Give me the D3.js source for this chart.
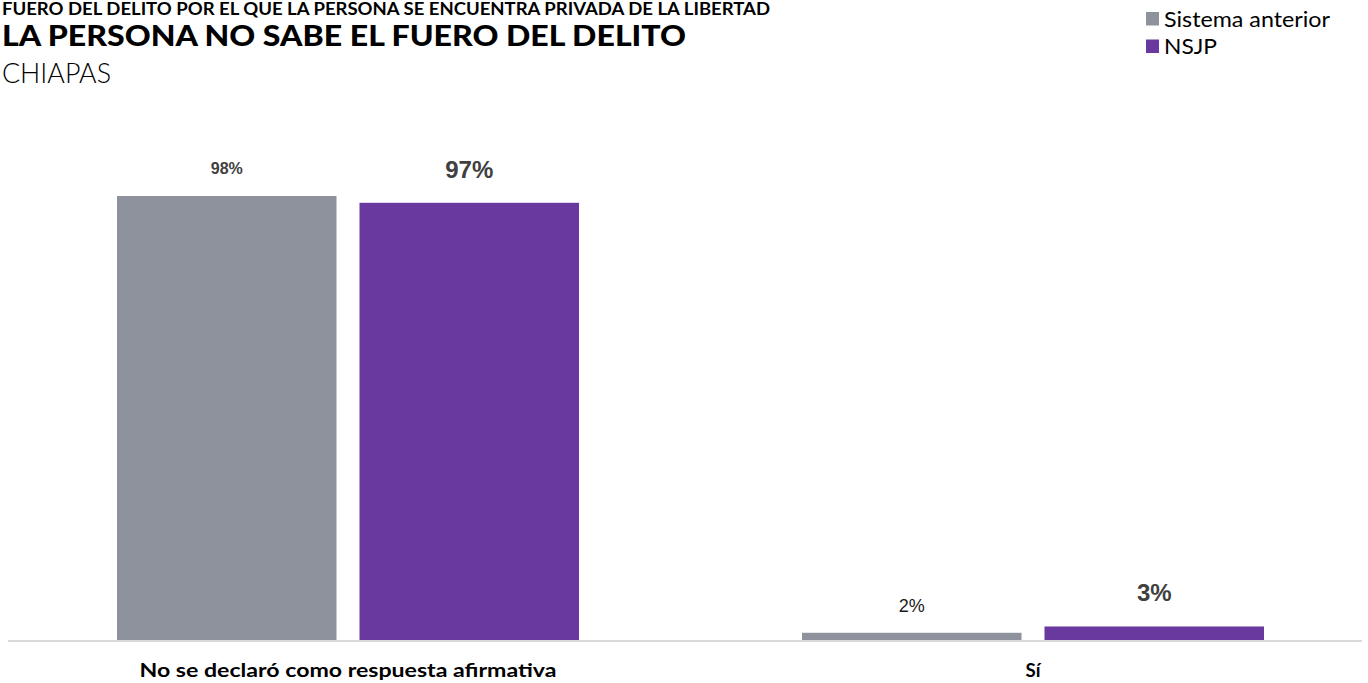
<!DOCTYPE html>
<html><head><meta charset="utf-8">
<script src="https://cdn.jsdelivr.net/npm/d3@7"></script>
<style>body{margin:0;background:#fff;}svg{display:block;}</style>
</head><body>
<svg id="c" width="1368" height="683"></svg>
<script>
const categories = ["No se declaró como respuesta afirmativa", "Sí"];
const series = ["Sistema anterior", "NSJP"];
const sistemaAnterior = [98.4, 1.6];
const nsjp = [96.9, 3.0];
const colors = ["#8e929c", "#6a399f"];

const svg = d3.select("#c");
const baseY = 640;
const x0 = d3.scaleBand().domain(categories).range([5.5, 1375.5]).padding(0);
const x1 = d3.scaleBand().domain(series).range([-231, 231]).paddingInner(0.0948).paddingOuter(0);
const y = d3.scaleLinear().domain([0, 100]).range([baseY, baseY - 451.2]);

const data = categories.map((c, i) => ({cat: c, vals: [
  {s: series[0], v: sistemaAnterior[i]}, {s: series[1], v: nsjp[i]}]}));

const labelStyle = [
  [{size: 16, weight: "bold", fill: "#404040", dy: -22}, {size: 24, weight: "bold", fill: "#404040", dy: -25}],
  [{size: 18, weight: "normal", fill: "#1a1a1a", dy: -21}, {size: 24, weight: "bold", fill: "#404040", dy: -25}]
];

svg.append("line").attr("x1", 8).attr("x2", 1362).attr("y1", baseY + 1).attr("y2", baseY + 1)
  .attr("stroke", "#d9d9d9").attr("stroke-width", 2);

const g = svg.selectAll("g.grp").data(data).join("g").attr("class", "grp")
  .attr("transform", d => `translate(${x0(d.cat) + x0.bandwidth() / 2},0)`);

g.selectAll("rect").data(d => d.vals).join("rect")
  .attr("x", d => x1(d.s)).attr("width", x1.bandwidth())
  .attr("y", d => y(d.v)).attr("height", d => baseY - y(d.v))
  .attr("fill", (d, i) => colors[i]);

g.each(function(d, ci) {
  d3.select(this).selectAll("text.val").data(d.vals).join("text").attr("class", "val")
    .attr("x", v => x1(v.s) + x1.bandwidth() / 2)
    .attr("y", (v, si) => y(v.v) + labelStyle[ci][si].dy)
    .attr("text-anchor", "middle")
    .attr("font-family", "Liberation Sans, Arial, sans-serif")
    .attr("font-size", (v, si) => labelStyle[ci][si].size)
    .attr("font-weight", (v, si) => labelStyle[ci][si].weight)
    .attr("fill", (v, si) => labelStyle[ci][si].fill)
    .text(v => Math.round(v.v) + "%");
});

const catWidths = [417, 15];
const xAxis = d3.axisBottom(x0).tickSize(0).tickPadding(0);
const ax = svg.append("g").attr("transform", `translate(0,${baseY})`).call(xAxis);
ax.select(".domain").remove();
ax.selectAll("text").attr("dy", null).attr("y", 37)
  .attr("font-family", "Lato, sans-serif").attr("font-weight", "bold")
  .attr("font-size", 19.5).attr("fill", "#000")
  .attr("textLength", (d, i) => catWidths[i]).attr("lengthAdjust", "spacingAndGlyphs");

svg.append("text").attr("x", 2).attr("y", 15).attr("font-family", "Lato, sans-serif")
  .attr("font-weight", "bold").attr("font-size", 16.5).attr("fill", "#000")
  .attr("textLength", 768).attr("lengthAdjust", "spacingAndGlyphs")
  .text("FUERO DEL DELITO POR EL QUE LA PERSONA SE ENCUENTRA PRIVADA DE LA LIBERTAD");
svg.append("text").attr("x", 2).attr("y", 46).attr("font-family", "Lato, sans-serif")
  .attr("font-weight", 900).attr("font-size", 29).attr("fill", "#000")
  .attr("textLength", 684).attr("lengthAdjust", "spacingAndGlyphs")
  .text("LA PERSONA NO SABE EL FUERO DEL DELITO");
svg.append("text").attr("x", 2).attr("y", 83).attr("font-family", "Lato, sans-serif")
  .attr("font-weight", 300).attr("font-size", 27).attr("fill", "#000")
  .attr("textLength", 109).attr("lengthAdjust", "spacingAndGlyphs")
  .text("CHIAPAS");

const legendWidths = [166, 53];
const lg = svg.append("g").attr("transform", "translate(1146,12)");
series.forEach((s, i) => {
  lg.append("rect").attr("x", 0).attr("y", i * 27.5).attr("width", 13).attr("height", 13.5).attr("fill", colors[i]);
  lg.append("text").attr("x", 18).attr("y", i * 27.5 + 14.5).attr("font-family", "Lato, sans-serif")
    .attr("font-size", 21).attr("fill", "#000")
    .attr("textLength", legendWidths[i]).attr("lengthAdjust", "spacingAndGlyphs").text(s);
});
</script>
</body></html>
